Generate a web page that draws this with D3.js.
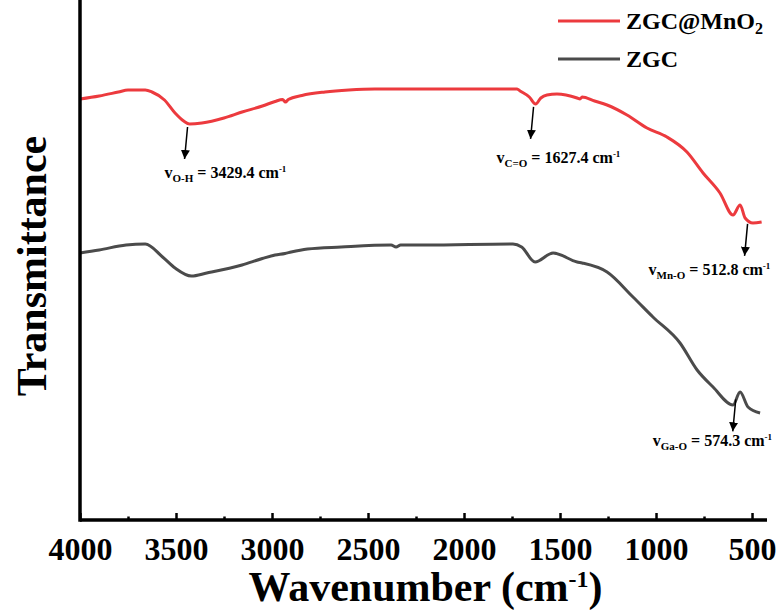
<!DOCTYPE html>
<html>
<head>
<meta charset="utf-8">
<script src="https://cdn.jsdelivr.net/npm/d3@7"></script>
<style>
  html, body { margin: 0; padding: 0; background: #fff; }
  svg { display: block; font-family: "Liberation Serif", "Times New Roman", serif; font-weight: bold; }
  svg text { font-family: "Liberation Serif", "Times New Roman", serif; font-weight: bold; }
</style>
</head>
<body>
<svg id="chart" width="780" height="612"></svg>
<script>
// FTIR spectra, wavenumber in cm-1, transmittance in arbitrary units
const mnWave = [4000, 3900, 3800, 3750, 3700, 3660, 3625, 3560, 3505, 3460, 3429, 3365, 3250, 3156, 3050, 2984, 2945, 2930, 2915, 2844, 2724, 2600, 2464, 2300, 2100, 1900, 1724, 1708, 1660, 1627, 1600, 1568, 1516, 1411, 1396, 1385, 1320, 1255, 1151, 1047, 943, 839, 755, 667, 599, 562, 536, 495, 450];
const mnTrans = [84.2, 84.8, 85.6, 86.0, 86.0, 86.0, 85.6, 84.0, 81.4, 79.8, 79.2, 79.4, 80.4, 81.6, 82.8, 83.7, 84.1, 83.6, 84.1, 84.9, 85.6, 86.0, 86.2, 86.2, 86.2, 86.2, 86.2, 85.8, 84.6, 83.2, 84.4, 85.0, 85.2, 84.4, 84.2, 84.6, 83.8, 83.0, 81.0, 78.4, 76.6, 73.6, 69.4, 65.4, 61.0, 63.0, 60.4, 59.4, 59.6];

const zgcWave = [4000, 3900, 3760, 3660, 3570, 3505, 3420, 3340, 3156, 3050, 2984, 2932, 2900, 2815, 2640, 2380, 2354, 2330, 2200, 1745, 1700, 1630, 1536, 1411, 1385, 1255, 1120, 1016, 875, 786, 703, 599, 562, 521, 458];
const zgcTrans = [53.4, 54.0, 55.0, 55.2, 52.6, 50.4, 48.8, 49.4, 51.0, 52.3, 53.0, 53.3, 53.6, 54.2, 54.6, 55.0, 54.6, 55.0, 55.0, 55.2, 54.6, 51.6, 53.4, 51.6, 51.4, 49.6, 44.6, 40.6, 35.4, 30.0, 26.6, 23.0, 25.6, 22.6, 21.4];

const seriesNames = ["ZGC@MnO2", "ZGC"];
const seriesColors = ["#ec3a3e", "#4b4b4b"];

const majorTicks = [4000, 3500, 3000, 2500, 2000, 1500, 1000, 500];
const minorTicks = [3750, 3250, 2750, 2250, 1750, 1250, 750];

// band assignments: [series index, wavenumber, subscript, value text]
const bands = [
  [0, 3429.4, "O-H", "3429.4"],
  [0, 1627.4, "C=O", "1627.4"],
  [0, 512.8, "Mn-O", "512.8"],
  [1, 574.3, "Ga-O", "574.3"]
];

const svg = d3.select("#chart");
const m = { left: 80, right: 767, top: 0, bottom: 520 };

const x = d3.scaleLinear().domain([4000, 422]).range([m.left, m.right]);
const y = d3.scaleLinear().domain([0, 104]).range([m.bottom, m.top]);

const series = [
  mnWave.map((w, i) => ({ w, t: mnTrans[i] })),
  zgcWave.map((w, i) => ({ w, t: zgcTrans[i] }))
];

const line = d3.line()
  .x(d => x(d.w))
  .y(d => y(d.t))
  .curve(d3.curveMonotoneX);

series.forEach((s, i) => {
  svg.append("path")
    .datum(s)
    .attr("fill", "none")
    .attr("stroke", seriesColors[i])
    .attr("stroke-width", 3)
    .attr("stroke-linejoin", "round")
    .attr("d", line);
});

// axes
const xAxis = svg.append("g")
  .attr("transform", `translate(0,${m.bottom})`)
  .call(d3.axisBottom(x).tickValues(majorTicks).tickSize(-7).tickPadding(17).tickFormat(d3.format("d")));
xAxis.attr("font-family", null).attr("font-size", null);
xAxis.select(".domain").attr("stroke-width", 3.5).attr("d", `M${m.left},0H${m.right}`);
xAxis.selectAll(".tick line").attr("stroke-width", 2.5);
xAxis.selectAll("text")
  .style("font-size", "32px")
  .attr("fill", "#000");

const xMinor = svg.append("g")
  .attr("transform", `translate(0,${m.bottom})`)
  .call(d3.axisBottom(x).tickValues(minorTicks).tickSize(-3.5).tickFormat(""));
xMinor.select(".domain").remove();
xMinor.selectAll(".tick line").attr("stroke-width", 2.5);

svg.append("line")
  .attr("x1", m.left).attr("x2", m.left)
  .attr("y1", 0).attr("y2", m.bottom + 1.75)
  .attr("stroke", "#000").attr("stroke-width", 3.5);

// axis titles
const xt = svg.append("text")
  .attr("x", (m.left + m.right) / 2 + 2)
  .attr("y", 601)
  .attr("text-anchor", "middle")
  .style("font-size", "42px");
xt.append("tspan").text("Wavenumber (cm");
xt.append("tspan").style("font-size", "24px").attr("dy", -14).text("-1");
xt.append("tspan").attr("dy", 14).text(")");

svg.append("text")
  .attr("transform", "translate(46,266) rotate(-90)")
  .attr("text-anchor", "middle")
  .style("font-size", "42px")
  .text("Transmittance");

// legend
const legend = svg.append("g");
seriesNames.forEach((name, i) => {
  const ly = 21 + i * 38;
  legend.append("line")
    .attr("x1", 558).attr("x2", 620)
    .attr("y1", ly).attr("y2", ly)
    .attr("stroke", seriesColors[i]).attr("stroke-width", 3);
  const t = legend.append("text")
    .attr("x", 626).attr("y", ly + 8)
    .style("font-size", "24px");
  if (name.endsWith("2")) {
    t.append("tspan").text(name.slice(0, -1));
    t.append("tspan").style("font-size", "16px").attr("dy", 5).text("2");
  } else {
    t.text(name);
  }
});

// band annotations
svg.append("defs").append("marker")
  .attr("id", "head")
  .attr("viewBox", "0 0 10 10")
  .attr("refX", 10).attr("refY", 5)
  .attr("markerWidth", 9).attr("markerHeight", 9)
  .attr("markerUnits", "userSpaceOnUse")
  .attr("orient", "auto")
  .append("path").attr("d", "M0,0L10,5L0,10z").attr("fill", "#000");

function valueAt(s, w) {
  for (let i = 0; i < s.length - 1; i++) {
    const a = s[i], b = s[i + 1];
    if (w <= a.w && w >= b.w) {
      const f = (a.w - w) / (a.w - b.w);
      return a.t + f * (b.t - a.t);
    }
  }
  return s[s.length - 1].t;
}

const labelOffsets = [[-20, 19], [-34, 24], [-96, 19], [-80, 15]];
bands.forEach((b, i) => {
  const [si, w, sub, val] = b;
  const ax = x(w) - 2, ay = y(valueAt(series[si], w)) + 3;
  const tx = ax - 3, ty = ay + 32;
  svg.append("line")
    .attr("x1", ax).attr("y1", ay)
    .attr("x2", tx).attr("y2", ty)
    .attr("stroke", "#000").attr("stroke-width", 1.5)
    .attr("marker-end", "url(#head)");
  const t = svg.append("text")
    .attr("x", tx + labelOffsets[i][0])
    .attr("y", ty + labelOffsets[i][1])
    .style("font-size", "16px");
  t.append("tspan").text("v");
  t.append("tspan").style("font-size", "11px").attr("dy", 4).text(sub);
  t.append("tspan").attr("dy", -4).text(" = " + val + " cm");
  t.append("tspan").style("font-size", "9px").attr("dy", -6).text("-1");
});
</script>
</body>
</html>
